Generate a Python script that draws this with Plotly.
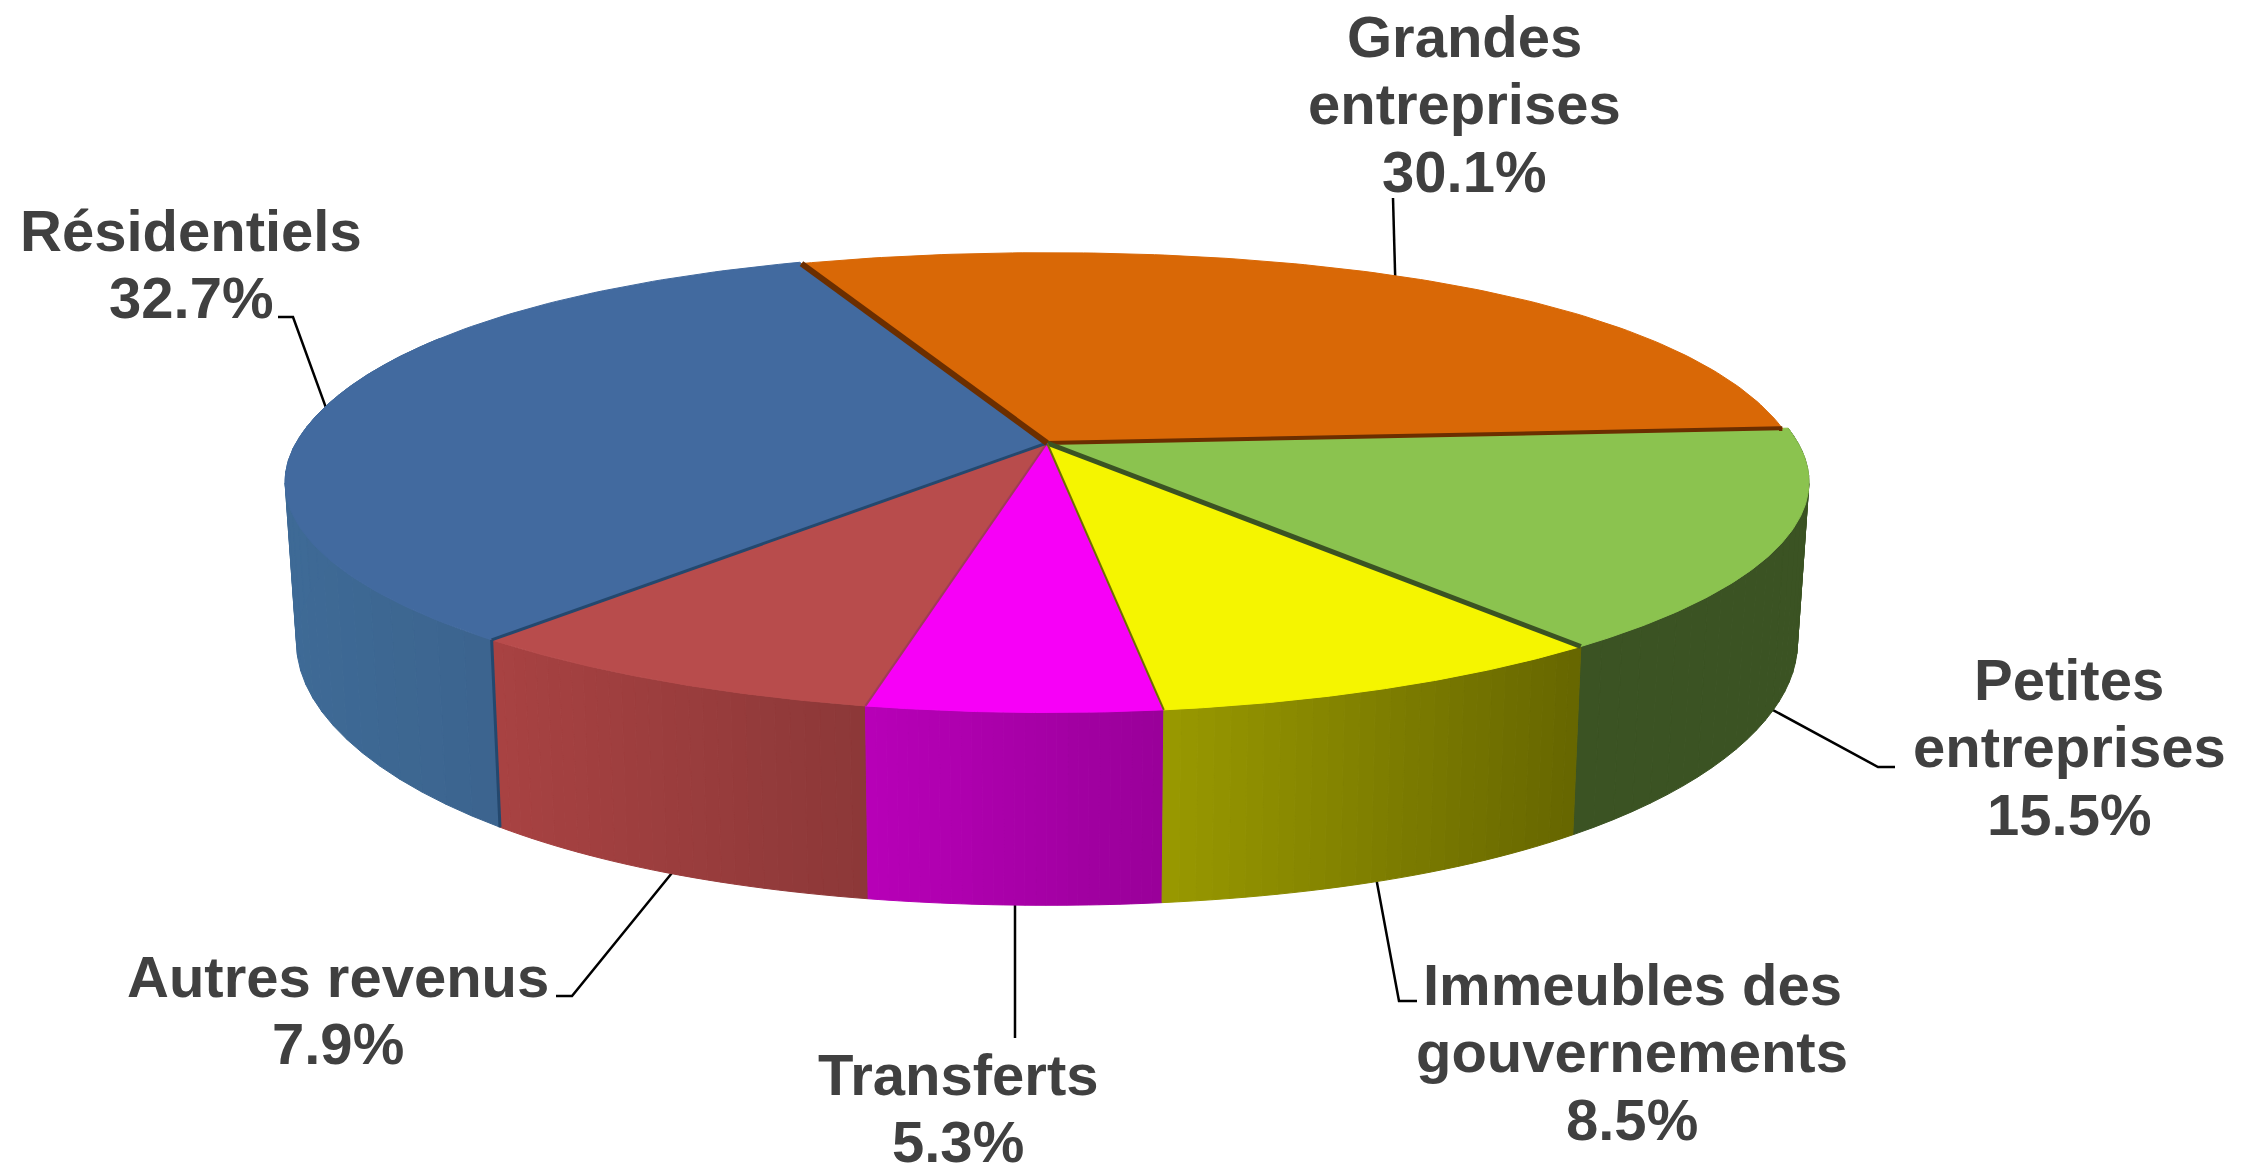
import numpy as np
import plotly.graph_objects as go

# ============================================================================
# DATA (clockwise from the top of the pie)
# ============================================================================

names = ["Grandes entreprises", "Petites entreprises", "Immeubles des gouvernements",
         "Transferts", "Autres revenus", "Résidentiels"]
shares = [30.1, 15.5, 8.5, 5.3, 7.9, 32.7]

top_colors = ["#d96806", "#8bc34f", "#f5f500", "#f700f7", "#b84c4c", "#426a9f"]
wall_left = ["#7a3b03", "#3b5323", "#999900", "#b800b8", "#a84242", "#3e6a96"]
wall_right = ["#7a3b03", "#3b5323", "#666600", "#990099", "#8c3838", "#3c648e"]
edge_colors = ["#6b2e00", "#3b5323", "#6f6f00", "#a03a5a", "#24486e", "#6b2e00"]
edge_widths = [4, 5, 2, 2, 3, 6]

label_lines = [["Grandes", "entreprises"], ["Petites", "entreprises"],
               ["Immeubles des", "gouvernements"], ["Transferts"],
               ["Autres revenus"], ["Résidentiels"]]

# ============================================================================
# PIE GEOMETRY (pixels of the 2255x1164 page)
# ============================================================================

CX, CY = 1047, 443
RX, RY = 751, 224
PERSP = 0.169
START = -22.2
SLICE_SCALE = [0.992, 1, 1, 1, 1, 1]
BOTTOM_SX, BOTTOM_SY, BOTTOM_DY = 0.985, 1.14, 155
# the original rim has rounder shoulders than a true ellipse
PUFF_BACK, PUFF_BOTTOM = 0.018, 0.022

LABEL_X = [1464, 2069, 1632, 958, 338, 191]
LABEL_Y = [36, 679, 984, 1074, 976, 230]
LINE_GAP = 67.5

# elbows: where each leader leaves the rim, then its points towards the text
LEADER_ON_BOTTOM = [False, True, True, True, True, False]
LEADER_NUDGE = [0.05, -0.9, 0.3, 0, -0.2, -1.4]
LEADER_PATH = [
    [(1393, 198)],
    [(1878, 767), (1895, 767)],
    [(1399, 1001), (1417, 1001)],
    [(1015, 1038)],
    [(572, 996), (556, 996)],
    [(293, 317), (278, 317)],
]


def project(deg, scale=1.0, bottom=False):
    t = np.radians(deg)
    yscale = scale
    if bottom:
        yscale = scale * (1 + PUFF_BOTTOM * np.sin(2 * t) ** 2)
    elif np.cos(t) > 0:
        scale = scale * (1 + PUFF_BACK * np.sin(2 * t) ** 2)
        yscale = scale
    xs = scale * np.sin(t)
    ys = -yscale * np.cos(t)
    w = 1 + PERSP * scale * np.cos(t)
    px = RX * xs / w
    py = RY * ys / w
    if bottom:
        return CX + BOTTOM_SX * px, CY + BOTTOM_DY + BOTTOM_SY * py
    return CX + px, CY + py


def mix(c1, c2, f):
    a = [int(c1[i:i + 2], 16) for i in (1, 3, 5)]
    b = [int(c2[i:i + 2], 16) for i in (1, 3, 5)]
    return "rgb(%d,%d,%d)" % tuple(round(p + (q - p) * f) for p, q in zip(a, b))


def poly(fig, x, y, color):
    fig.add_trace(go.Scatter(x=x, y=y, mode="lines", fill="toself", fillcolor=color,
                             line=dict(color=color, width=1), hoverinfo="skip"))


edges = START + np.cumsum([0] + shares) * 3.6

fig = go.Figure()

# ============================================================================
# LEADER LINES
# ============================================================================

for i, path in enumerate(LEADER_PATH):
    mid = (edges[i] + edges[i + 1]) / 2 + LEADER_NUDGE[i]
    x0, y0 = project(mid, 0.985, LEADER_ON_BOTTOM[i])
    xs = [x0] + [p[0] for p in path]
    ys = [y0] + [p[1] for p in path]
    fig.add_trace(go.Scatter(x=xs, y=ys, mode="lines", line=dict(color="#000000", width=2.5),
                             hoverinfo="skip"))

# ============================================================================
# OUTER WALLS (strips, shaded from left to right)
# ============================================================================

for i in [5, 1, 4, 3, 2]:
    a0 = edges[i]
    a1 = edges[i + 1]
    if i == 5:
        a1 = min(a1, 300)
    if i == 1:
        a0 = max(a0, 80)
    n = 28
    angs = np.linspace(a0, a1, n + 1)
    xt = [project(a)[0] for a in angs]
    span = max(xt) - min(xt)
    for j in range(n):
        ax, ay = project(angs[j])
        bx, by = project(angs[j + 1])
        cx, cy = project(angs[j + 1], bottom=True)
        dx, dy = project(angs[j], bottom=True)
        f = ((ax + bx) / 2 - min(xt)) / span
        poly(fig, [ax, bx, cx, dx, ax], [ay, by, cy, dy, ay], mix(wall_left[i], wall_right[i], f))

# ============================================================================
# TOP FACES
# ============================================================================

for i in [5, 4, 3, 2, 1, 0]:
    angs = np.linspace(edges[i], edges[i + 1], 120)
    rim = [project(a, SLICE_SCALE[i]) for a in angs]
    x = [CX] + [p[0] for p in rim] + [CX]
    y = [CY] + [p[1] for p in rim] + [CY]
    poly(fig, x, y, top_colors[i])

# ============================================================================
# SEPARATORS
# ============================================================================

# orange start edge (index 5), then the end edge of every slice clockwise
for i in range(6):
    bx, by = project(edges[i + 1], SLICE_SCALE[(i + 1) % 6] if i == 5 else SLICE_SCALE[i])
    fig.add_trace(go.Scatter(x=[CX, bx], y=[CY, by], mode="lines",
                             line=dict(color=edge_colors[i], width=edge_widths[i]),
                             hoverinfo="skip"))

# dark seam running down the wall between Autres revenus and Résidentiels
sx0, sy0 = project(edges[5])
sx1, sy1 = project(edges[5], bottom=True)
fig.add_trace(go.Scatter(x=[sx0, sx1], y=[sy0, sy1], mode="lines",
                         line=dict(color=edge_colors[4], width=3), hoverinfo="skip"))

# ============================================================================
# LABELS
# ============================================================================

for i, lines in enumerate(label_lines):
    rows = lines + [f"{shares[i]}%"]
    for j, row in enumerate(rows):
        fig.add_annotation(x=LABEL_X[i], y=LABEL_Y[i] + j * LINE_GAP, text=f"<b>{row}</b>",
                           showarrow=False, xanchor="center", yanchor="middle",
                           font=dict(family="Liberation Sans", size=58, color="#404040"))

fig.update_layout(
    width=2255,
    height=1164,
    margin=dict(l=0, r=0, t=0, b=0),
    paper_bgcolor="#ffffff",
    plot_bgcolor="#ffffff",
    showlegend=False,
    xaxis=dict(range=[0, 2255], visible=False, fixedrange=True),
    yaxis=dict(range=[1164, 0], visible=False, fixedrange=True),
)

fig.write_html("out.html", config=dict(displayModeBar=False),
               post_script="document.body.style.margin='0';document.documentElement.style.overflow='hidden';")
